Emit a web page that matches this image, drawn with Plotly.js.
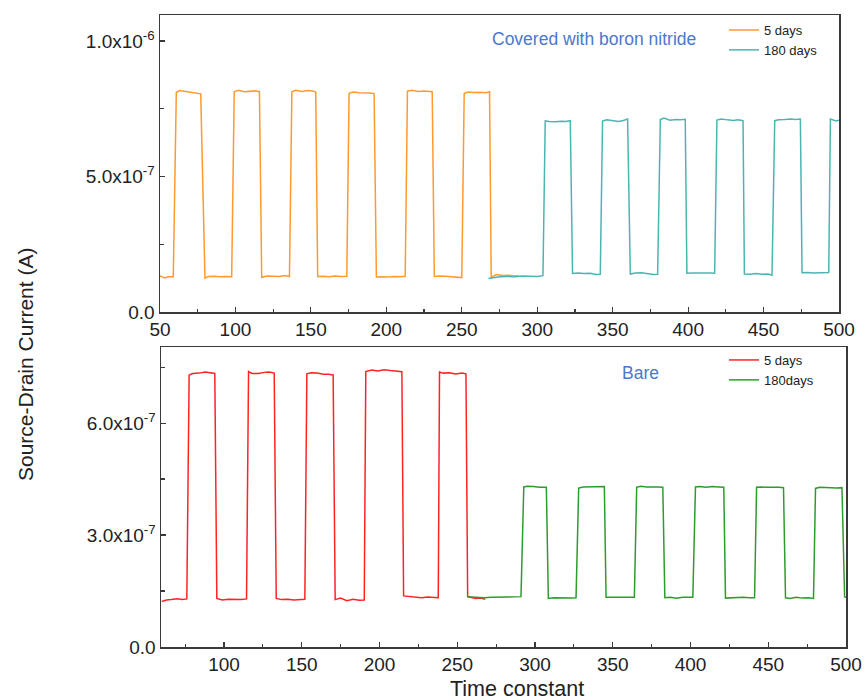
<!DOCTYPE html>
<html>
<head>
<meta charset="utf-8">
<script src="https://cdn.plot.ly/plotly-3.0.1.min.js"></script>
<style>html,body{margin:0;padding:0;background:#fff;}#chart{width:865px;height:700px;}</style>
</head>
<body>
<div id="chart"></div>
<script>
// Values in units of 1e-7 A
const UNIT = 1e-7;

// ---- Top panel: covered with boron nitride ----
const bn5dX = [50,53,55.5,58.8, 60.8,63,66,70,74,77, 79.8,82,86,90,94,97.5, 99.2,102,106,110,113,115.9,
  117.4,121,125,129,133,135.8, 137.4,140,144,148,151,153.2, 154.5,158,162,166,170,173.8,
  175.3,178,182,186,189,191.9, 193.4,197,201,205,209,212.5, 214,217,221,225,228,230.4,
  231.8,235,239,243,247,250, 251.6,254,258,262,266,268.4, 269.5,273,277,281,285,287.5];
const bn5dY = [1.33,1.26,1.30,1.30, 8.10,8.17,8.15,8.12,8.10,8.05, 1.25,1.31,1.32,1.30,1.31,1.30, 8.13,8.18,8.13,8.15,8.16,8.13,
  1.28,1.33,1.32,1.31,1.35,1.31, 8.13,8.18,8.14,8.17,8.16,8.12, 1.31,1.32,1.30,1.33,1.31,1.32,
  8.07,8.12,8.09,8.10,8.08,8.06, 1.29,1.30,1.29,1.31,1.30,1.32, 8.15,8.18,8.14,8.16,8.14,8.13,
  1.31,1.33,1.32,1.30,1.28,1.27, 8.06,8.12,8.10,8.11,8.09,8.13, 1.28,1.38,1.35,1.36,1.33,1.34];

const bn180dX = [267.7,271,275,280,285,290,295,300,303.8, 305.3,308,312,316,319,321.9, 323.4,327,331,335,339,341.8,
  343.3,346,350,354,357,359.9, 361.7,365,369,373,377,379.8, 381.6,384,388,392,395,398.1,
  399.2,403,407,411,415,417.6, 419.1,422,426,430,433,436.4, 437.3,441,445,449,453,455.6,
  457.4,460,464,468,471,474.4, 475.5,479,483,487,491,493.2, 494.3,496,498,500];
const bn180dY = [1.24,1.27,1.30,1.31,1.30,1.33,1.32,1.31,1.34, 7.05,7.03,7.02,7.04,7.03,7.06, 1.42,1.44,1.42,1.43,1.38,1.39,
  7.05,7.09,7.06,7.03,7.07,7.12, 1.40,1.44,1.45,1.42,1.38,1.39, 7.10,7.16,7.08,7.10,7.09,7.11,
  1.43,1.44,1.45,1.44,1.44,1.43, 7.08,7.12,7.09,7.07,7.09,7.06, 1.40,1.39,1.42,1.39,1.40,1.36,
  7.06,7.09,7.10,7.12,7.10,7.12, 1.45,1.46,1.44,1.44,1.45,1.46, 7.12,7.10,7.05,7.08];

// ---- Bottom panel: bare ----
const bare5dX = [60,63,66,70,73,76.1, 77.6,80,84,88,91,94.1, 95.4,99,103,107,111,114.5, 115.8,118,122,126,129,132.3,
  133.6,137,141,145,149,152, 153.3,156,160,164,167,170.2, 171.5,175,179,183,187,190.2,
  191.2,195,199,203,207,211,214.4, 215.5,219,223,227,231,235,237.8, 238.6,241,245,249,253,255.6,
  256.7,259,262,265,268];
const bare5dY = [1.22,1.26,1.27,1.29,1.27,1.29, 7.29,7.33,7.34,7.37,7.35,7.33, 1.30,1.26,1.28,1.27,1.27,1.29, 7.38,7.33,7.33,7.36,7.37,7.34,
  1.30,1.27,1.28,1.26,1.27,1.28, 7.32,7.35,7.34,7.31,7.31,7.29, 1.27,1.31,1.24,1.28,1.25,1.26,
  7.38,7.42,7.40,7.43,7.41,7.40,7.38, 1.37,1.35,1.33,1.32,1.34,1.32,1.32, 7.37,7.34,7.35,7.32,7.34,7.32,
  1.35,1.32,1.30,1.31,1.28];

const bare180dX = [256.7,262,267,272,277,282,287,291, 292.8,295,299,303,307.3, 308.6,312,316,320,323,326.4,
  328.1,331,335,339,342,344.6, 345.7,349,353,357,361,363.9, 365.4,368,372,376,379,382.2,
  383.5,387,391,395,399,401.5, 403.2,406,410,414,418,421.4, 422.5,426,430,434,438,441.2,
  442.5,445,449,453,457,459.8, 461.1,464,468,472,476,479.1, 480.4,483,487,491,494,497.4, 499.1,500];
const bare180dY = [1.35,1.33,1.32,1.33,1.34,1.33,1.34,1.35, 4.29,4.31,4.30,4.28,4.28, 1.30,1.32,1.31,1.32,1.31,1.32,
  4.26,4.29,4.29,4.28,4.30,4.30, 1.33,1.33,1.32,1.33,1.33,1.33, 4.28,4.31,4.29,4.30,4.29,4.28,
  1.32,1.33,1.31,1.33,1.32,1.33, 4.29,4.30,4.28,4.30,4.29,4.28, 1.31,1.32,1.32,1.33,1.32,1.32,
  4.28,4.29,4.28,4.29,4.28,4.27, 1.32,1.30,1.33,1.31,1.32,1.30, 4.25,4.28,4.27,4.28,4.26,4.27, 1.34,1.33];

// Tick labels
const topYTickVals = [0, 5e-7, 1e-6];
const topYTickText = ["0.0", "5.0x10<sup>-7</sup>", "1.0x10<sup>-6</sup>"];
const botYTickVals = [0, 3e-7, 6e-7];
const botYTickText = ["0.0", "3.0x10<sup>-7</sup>", "6.0x10<sup>-7</sup>"];

const seriesNames = ["5 days", "180 days", "5 days", "180days"];
const colors = ["#FF9A30", "#4DB5B1", "#FF2424", "#2E9B2E"];

const scale = a => a.map(v => v * UNIT);
const FONT = "Arial, 'Liberation Sans', sans-serif";

const traces = [
  {x: bn5dX, y: scale(bn5dY), name: seriesNames[0], xaxis: "x", yaxis: "y", legend: "legend",
   mode: "lines", line: {color: colors[0], width: 1.5}},
  {x: bn180dX, y: scale(bn180dY), name: seriesNames[1], xaxis: "x", yaxis: "y", legend: "legend",
   mode: "lines", line: {color: colors[1], width: 1.5}},
  {x: bare5dX, y: scale(bare5dY), name: seriesNames[2], xaxis: "x2", yaxis: "y2", legend: "legend2",
   mode: "lines", line: {color: colors[2], width: 1.5}},
  {x: bare180dX, y: scale(bare180dY), name: seriesNames[3], xaxis: "x2", yaxis: "y2", legend: "legend2",
   mode: "lines", line: {color: colors[3], width: 1.5}}
];

const axColor = "#3a3a3a";
const tickFont = {family: FONT, size: 19, color: "#222"};
const common = {
  showline: true, linecolor: axColor, linewidth: 1.5, mirror: true,
  ticks: "inside", ticklen: 5, tickwidth: 1.2, tickcolor: axColor,
  showgrid: false, zeroline: false, tickfont: tickFont
};

const layout = {
  width: 865, height: 700,
  margin: {l: 0, r: 0, t: 0, b: 0},
  paper_bgcolor: "#fff", plot_bgcolor: "#fff",
  font: {family: FONT, color: "#222"},
  xaxis: Object.assign({}, common, {
    domain: [160/865, 839/865], range: [50, 500], anchor: "y",
    tickmode: "linear", tick0: 50, dtick: 50,
    minor: {ticks: "inside", ticklen: 3, tick0: 25, dtick: 25, tickcolor: axColor}
  }),
  yaxis: Object.assign({}, common, {
    domain: [1 - 312/700, 1 - 15/700], range: [0, 1.096e-6], anchor: "x",
    tickmode: "array", tickvals: topYTickVals, ticktext: topYTickText,
    minor: {ticks: "inside", ticklen: 4, tick0: 0, dtick: 2.5e-7, tickcolor: axColor}
  }),
  xaxis2: Object.assign({}, common, {
    domain: [161/865, 846/865], range: [59.5, 500], anchor: "y2",
    tickmode: "linear", tick0: 50, dtick: 50,
    minor: {ticks: "inside", ticklen: 3, tick0: 25, dtick: 25, tickcolor: axColor}
  }),
  yaxis2: Object.assign({}, common, {
    domain: [1 - 647/700, 1 - 347/700], range: [0, 8.04e-7], anchor: "x2",
    tickmode: "array", tickvals: botYTickVals, ticktext: botYTickText,
    minor: {ticks: "inside", ticklen: 4, tick0: 0, dtick: 1.5e-7, tickcolor: axColor}
  }),
  legend: {
    x: 724/865, y: 1 - 15/700, xanchor: "left", yanchor: "top",
    bgcolor: "rgba(0,0,0,0)", borderwidth: 0,
    font: {family: FONT, size: 13, color: "#222"}, tracegroupgap: 0
  },
  legend2: {
    x: 724/865, y: 1 - 345/700, xanchor: "left", yanchor: "top",
    bgcolor: "rgba(0,0,0,0)", borderwidth: 0,
    font: {family: FONT, size: 13, color: "#222"}, tracegroupgap: 0
  },
  showlegend: true,
  annotations: [
    {text: "Covered with boron nitride", xref: "paper", yref: "paper",
     x: 594/865, y: 1 - 39/700, xanchor: "center", yanchor: "middle", showarrow: false,
     font: {family: FONT, size: 17.5, color: "#4A78CF"}},
    {text: "Bare", xref: "paper", yref: "paper",
     x: 640/865, y: 1 - 373/700, xanchor: "center", yanchor: "middle", showarrow: false,
     font: {family: FONT, size: 17.5, color: "#4A78CF"}},
    {text: "Source-Drain Current (A)", xref: "paper", yref: "paper",
     x: 25/865, y: 1 - 365/700, xanchor: "center", yanchor: "middle", showarrow: false,
     textangle: -90, font: {family: FONT, size: 21, color: "#222"}},
    {text: "Time constant", xref: "paper", yref: "paper",
     x: 517/865, y: 1 - 689/700, xanchor: "center", yanchor: "middle", showarrow: false,
     font: {family: FONT, size: 21.5, color: "#222"}}
  ]
};

Plotly.newPlot("chart", traces, layout, {displayModeBar: false, staticPlot: true});
</script>
</body>
</html>
